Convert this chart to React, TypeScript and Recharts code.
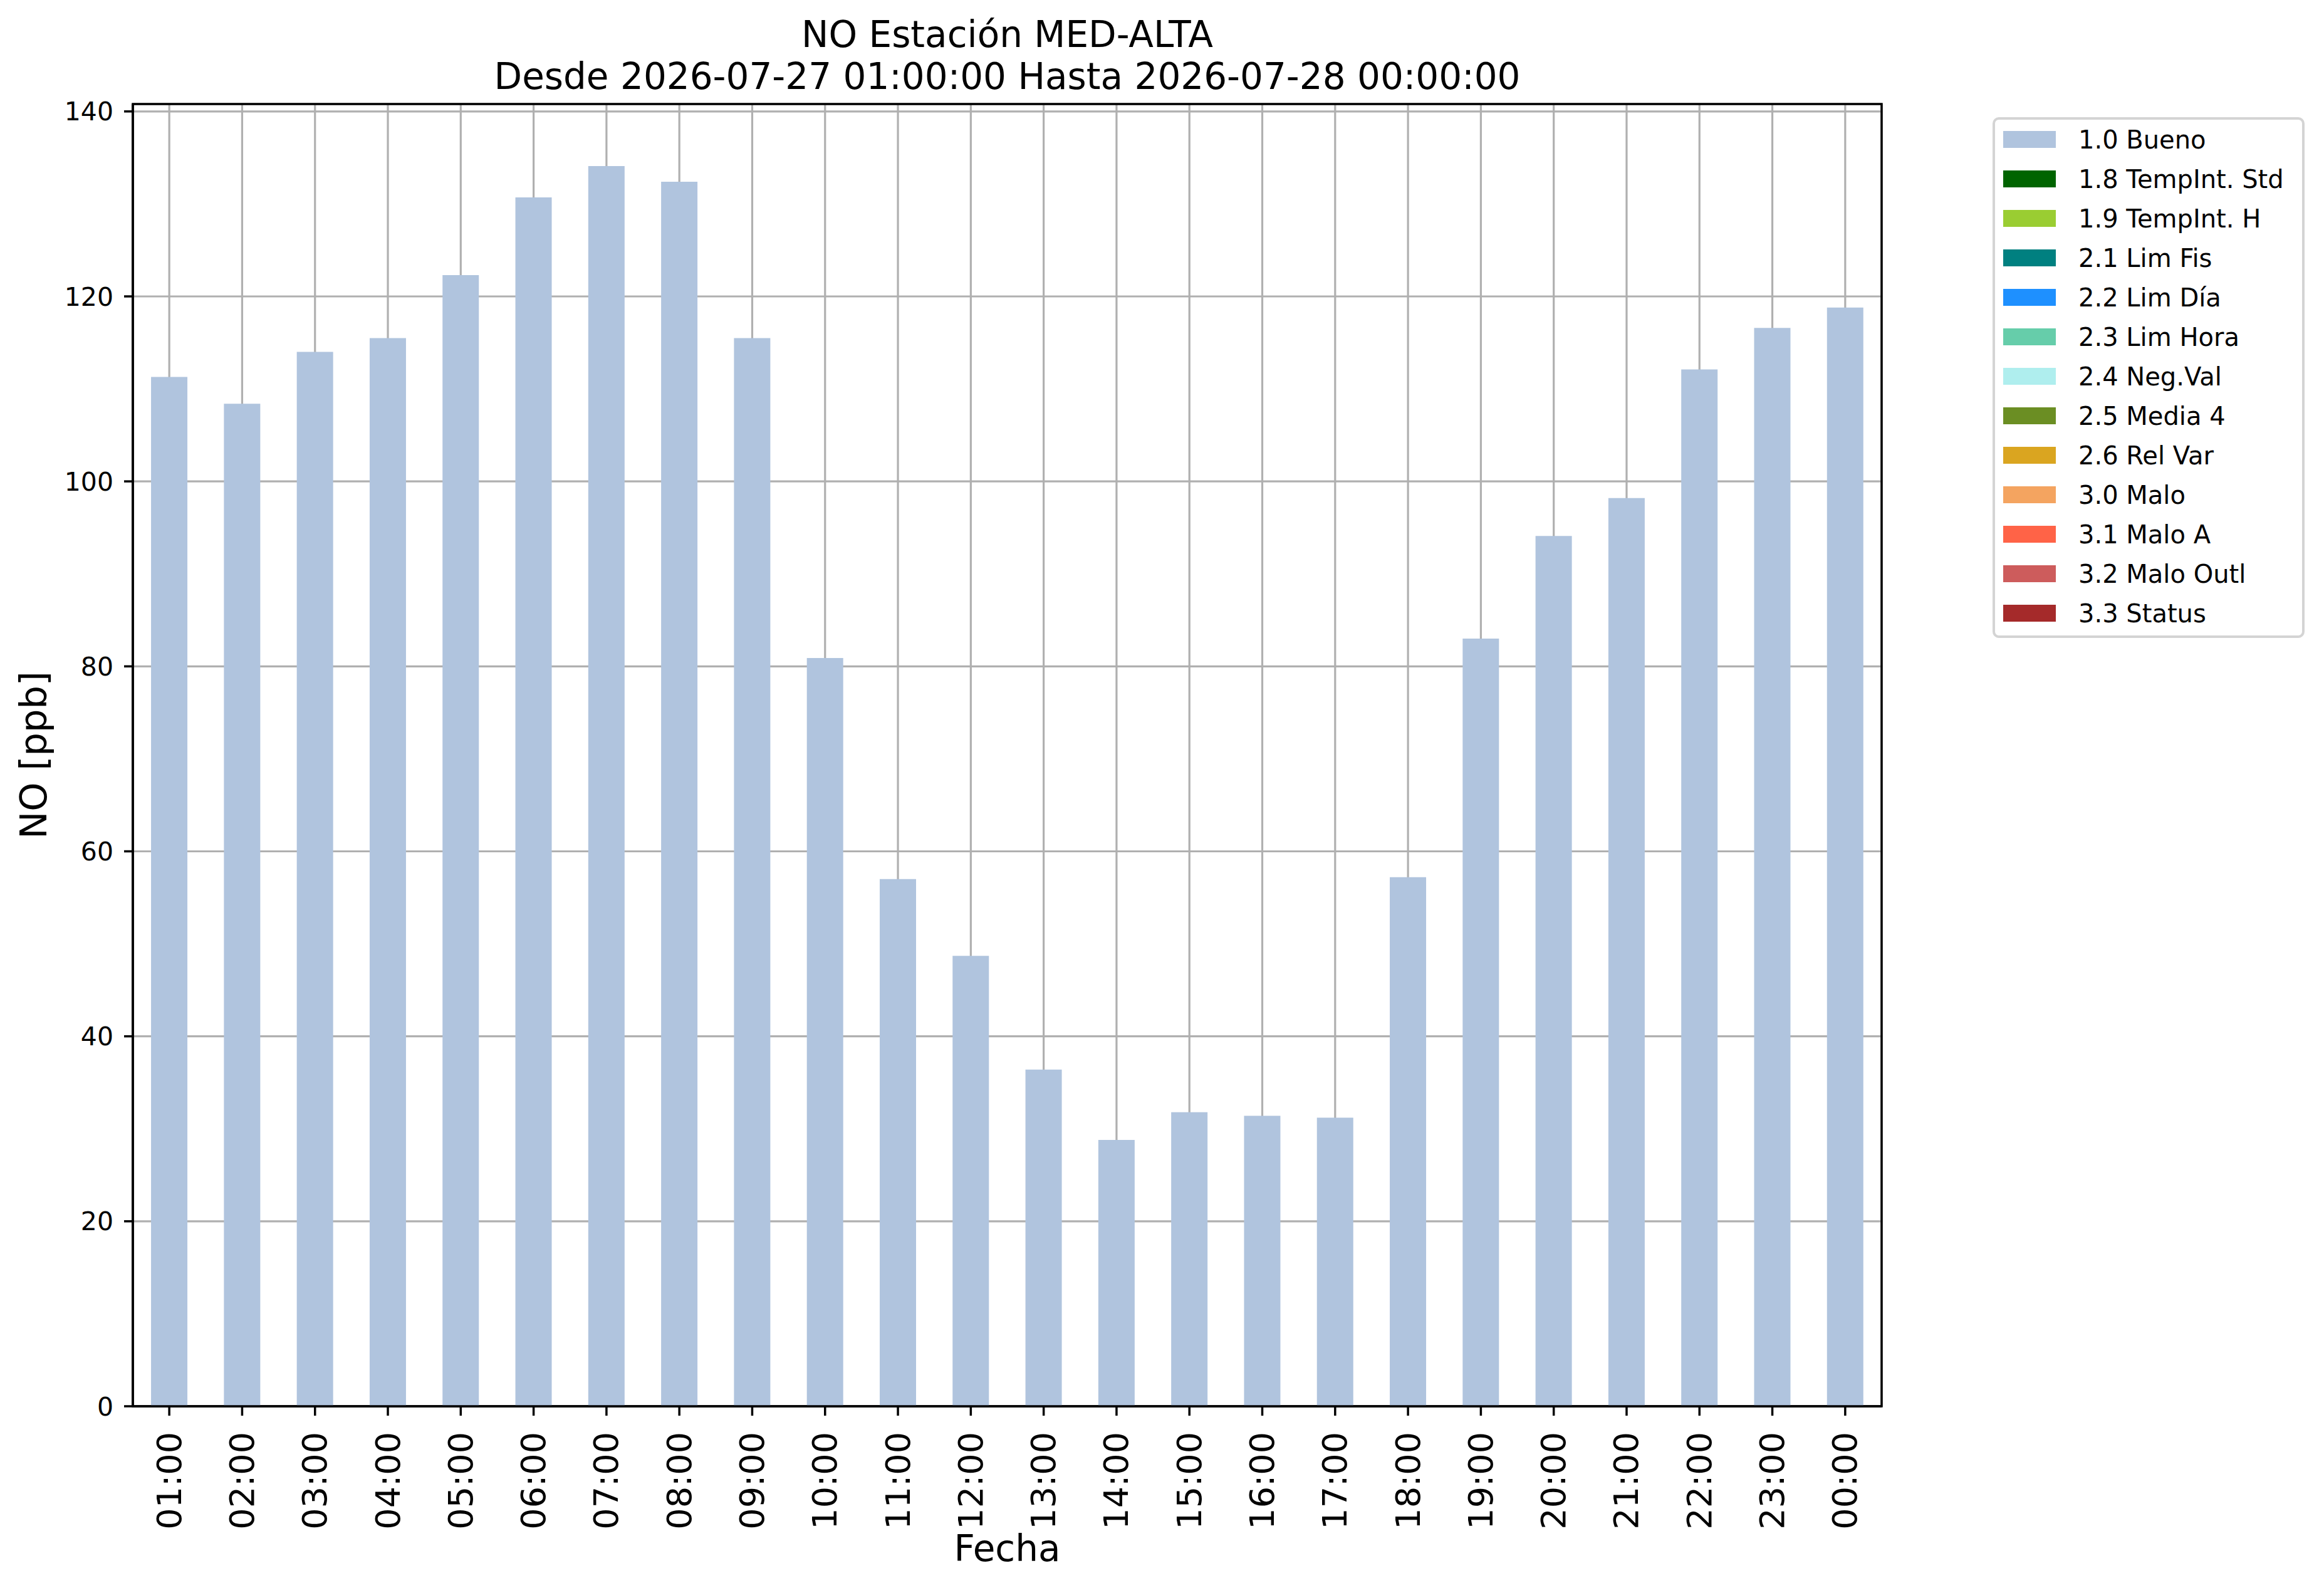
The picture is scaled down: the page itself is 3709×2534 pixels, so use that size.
import React from "react"
import { Bar, BarChart, CartesianGrid, Legend, ReferenceArea, XAxis, YAxis } from "recharts"

const HOURS = [
  "01:00", "02:00", "03:00", "04:00", "05:00", "06:00", "07:00", "08:00",
  "09:00", "10:00", "11:00", "12:00", "13:00", "14:00", "15:00", "16:00",
  "17:00", "18:00", "19:00", "20:00", "21:00", "22:00", "23:00", "00:00",
]

const NO_PPB = [
  111.3, 108.4, 114.0, 115.5, 122.3, 130.7, 134.1, 132.4,
  115.5, 80.9, 57.0, 48.7, 36.4, 28.8, 31.8, 31.4,
  31.2, 57.2, 83.0, 94.1, 98.2, 112.1, 116.6, 118.8,
]

const Y_TICKS = [0, 20, 40, 60, 80, 100, 120, 140]
const Y_MAX = 140.8

const FLAGS = [
  "1.0 Bueno", "1.8 TempInt. Std", "1.9 TempInt. H", "2.1 Lim Fis",
  "2.2 Lim Día", "2.3 Lim Hora", "2.4 Neg.Val", "2.5 Media 4",
  "2.6 Rel Var", "3.0 Malo", "3.1 Malo A", "3.2 Malo Outl", "3.3 Status",
]

const FLAG_COLORS = [
  "#b0c4de", "#006400", "#9acd32", "#008080", "#1e90ff", "#66cdaa", "#afeeee",
  "#6b8e23", "#daa520", "#f4a460", "#ff6347", "#cd5c5c", "#a52a2a",
]

const TITLE = ["NO Estación MED-ALTA", "Desde 2026-07-27 01:00:00 Hasta 2026-07-28 00:00:00"]

const data = HOURS.map((hour, i) => ({ hour, value: NO_PPB[i] }))

const FONT = "'DejaVu Sans', sans-serif"

function HourTick({ x, y, payload }: any) {
  return (
    <text
      x={x}
      y={y}
      transform={`rotate(-90, ${x}, ${y})`}
      textAnchor="end"
      dominantBaseline="central"
      fontSize={54}
      fontFamily={FONT}
      fill="#000"
    >
      {payload.value}
    </text>
  )
}

// title sits above the plot frame, two lines centred on it
function TitleLabel({ viewBox }: any) {
  const cx = viewBox.x + viewBox.width / 2
  return (
    <text textAnchor="middle" fontSize={58} fontFamily={FONT} fill="#000">
      <tspan x={cx} y={viewBox.y - 91}>{TITLE[0]}</tspan>
      <tspan x={cx} y={viewBox.y - 24}>{TITLE[1]}</tspan>
    </text>
  )
}

function XTitle({ viewBox }: any) {
  return (
    <text
      x={viewBox.x + viewBox.width / 2}
      y={viewBox.y + viewBox.height}
      textAnchor="middle"
      fontSize={58}
      fontFamily={FONT}
      fill="#000"
    >
      Fecha
    </text>
  )
}

function YTitle({ viewBox }: any) {
  const x = 74
  const y = viewBox.y + viewBox.height / 2
  return (
    <text
      x={x}
      y={y}
      transform={`rotate(-90, ${x}, ${y})`}
      textAnchor="middle"
      fontSize={59}
      fontFamily={FONT}
      fill="#000"
    >
      NO [ppb]
    </text>
  )
}

function FlagLegend() {
  return (
    <div
      style={{
        border: "4px solid #d4d4d4",
        borderRadius: 10,
        background: "#fff",
        padding: "0 0 4px 13px",
        boxSizing: "border-box",
        width: 498,
        fontFamily: FONT,
        fontSize: 40,
        color: "#000",
      }}
    >
      {FLAGS.map((flag, i) => (
        <div key={flag} style={{ display: "flex", alignItems: "center", height: 63 }}>
          <span style={{ display: "inline-block", width: 84, height: 27, background: FLAG_COLORS[i] }} />
          <span style={{ marginLeft: 36, whiteSpace: "nowrap" }}>{flag}</span>
        </div>
      ))}
    </div>
  )
}

export default function App() {
  return (
    <div style={{ position: "absolute", left: 0, top: 0, width: 3709, height: 2534, background: "#fff" }}>
      <BarChart
        width={3709}
        height={2534}
        data={data}
        margin={{ top: 166, right: 706, bottom: 43, left: 112 }}
        barCategoryGap="25%"
      >
        <XAxis
          dataKey="hour"
          height={247}
          interval={0}
          stroke="#000"
          axisLine={{ strokeWidth: 3.5 }}
          tickLine={{ strokeWidth: 3.5 }}
          tickSize={15}
          tickMargin={26}
          tick={<HourTick />}
          label={<XTitle />}
        />
        <YAxis
          width={100}
          domain={[0, Y_MAX]}
          ticks={Y_TICKS}
          stroke="#000"
          axisLine={{ strokeWidth: 3.5 }}
          tickLine={{ strokeWidth: 3.5 }}
          tickSize={14}
          tickMargin={17}
          tick={{ fill: "#000", fontSize: 41, fontFamily: FONT }}
          label={<YTitle />}
        />
        <Bar dataKey="value" name={FLAGS[0]} fill={FLAG_COLORS[0]} isAnimationActive={false} />
        <CartesianGrid stroke="#b0b0b0" strokeWidth={3.2} />
        <ReferenceArea
          x1={HOURS[0]}
          x2={HOURS[HOURS.length - 1]}
          y1={0}
          y2={Y_MAX}
          fill="none"
          fillOpacity={0}
          stroke="#000"
          strokeWidth={3.5}
          strokeOpacity={1}
          ifOverflow="visible"
          label={<TitleLabel />}
        />
        <Legend
          layout="horizontal"
          align="center"
          verticalAlign="middle"
          wrapperStyle={{ left: 3180, top: 187, width: 498 }}
          content={() => <FlagLegend />}
        />
      </BarChart>
    </div>
  )
}
